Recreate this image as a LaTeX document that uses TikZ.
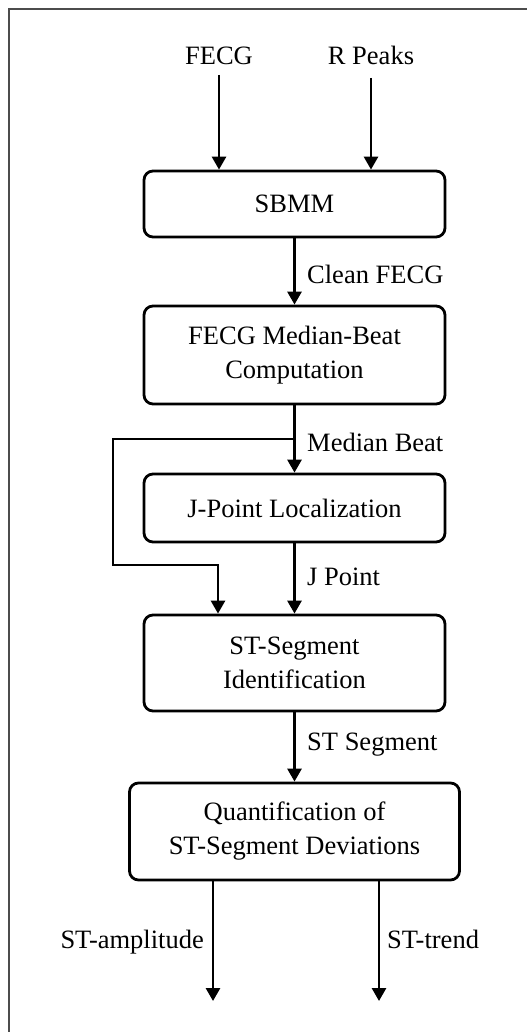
\documentclass[tikz,border=0pt]{standalone}
\usepackage{fontspec}
\setmainfont{Liberation Serif}
\usetikzlibrary{arrows.meta,calc}

\tikzset{
  every node/.style={font=\fontsize{26.5}{34}\selectfont},
  stage/.style={draw, line width=2.8pt, rounded corners=9pt, align=center,
                inner sep=0pt, minimum width=301pt},
  lbl/.style={inner sep=0pt, anchor=base},
  sidelbl/.style={inner sep=0pt, anchor=base west},
  flow/.style={line width=2.8pt, -{Triangle[width=14pt,length=13pt]}},
  frame/.style={draw=black!70, line width=2pt}
}

\begin{document}
\begin{tikzpicture}[x=1pt,y=-1pt]
  \useasboundingbox (0,0) rectangle (527,1032);

  % enclosing frame (left and top edges)
  \draw[frame] (9,1032) -- (9,9) -- (527,9);

  % inputs
  \node[lbl] (fecg) at (219,65) {FECG};
  \node[lbl] (rpk)  at (371,65) {R Peaks};

  % processing stages
  \node[stage, minimum height=66pt] (sbmm)  at (294.5,204)   {SBMM};
  \node[stage, minimum height=98pt] (med)   at (294.5,355)   {FECG Median-Beat\\Computation};
  \node[stage, minimum height=68pt] (jpt)   at (294.5,508)   {J-Point Localization};
  \node[stage, minimum height=96pt] (st)    at (294.5,663)   {ST-Segment\\Identification};
  \node[stage, minimum height=97pt, minimum width=330pt] (quant) at (294.5,831.5)
        {Quantification of\\ST-Segment Deviations};

  % connector labels
  \node[sidelbl] (lclean) at (307,283) {Clean FECG};
  \node[sidelbl] (lmed)   at (307,451) {Median Beat};
  \node[sidelbl] (ljp)    at (307,585) {J Point};
  \node[sidelbl] (lseg)   at (307,750) {ST Segment};
  \node[inner sep=0pt, anchor=base east] (lamp) at (204,948) {ST-amplitude};
  \node[sidelbl] (ltrend) at (387,948) {ST-trend};

  % bend points and free ends
  \coordinate (split) at (294.5,439);
  \coordinate (bendA) at (113,439);
  \coordinate (bendB) at (113,565);
  \coordinate (bendC) at (218,565);
  \coordinate (outA)  at (213,1001);
  \coordinate (outB)  at (379,1001);

  % input arrows
  \draw[flow] ($(fecg.base)+(0,10)$) -- (fecg.base |- sbmm.north);
  \draw[flow] ($(rpk.base)+(0,13)$) -- (rpk.base |- sbmm.north);

  % main chain
  \draw[flow] (sbmm.south) -- (med.north);
  \draw[flow] (med.south) -- (jpt.north);
  \draw[flow] (jpt.south) -- (st.north);
  \draw[flow] (st.south) -- (quant.north);

  % median beat bypass into ST-segment identification
  \draw[flow] (split) -- (bendA) -- (bendB) -- (bendC) -- (bendC |- st.north);

  % outputs
  \draw[flow] (quant.south -| outA) -- (outA);
  \draw[flow] (quant.south -| outB) -- (outB);
\end{tikzpicture}
\end{document}
